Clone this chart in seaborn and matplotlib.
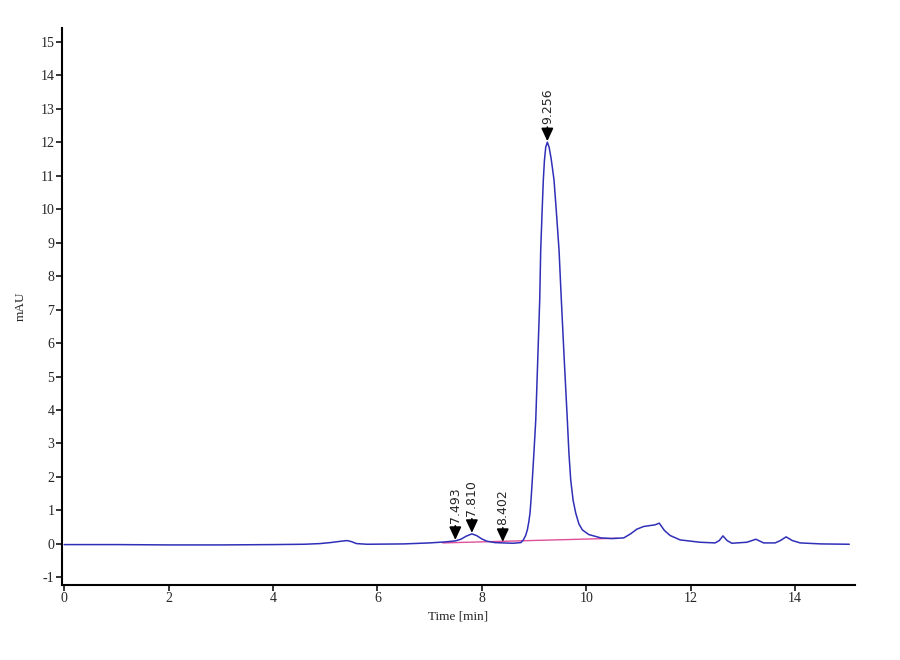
import numpy as np
import pandas as pd
import seaborn as sns
import matplotlib.pyplot as plt

# chromatogram (time in min, signal in mAU)
temps = [0.0, 1.0, 2.0, 3.0, 4.0, 4.6, 4.9, 5.1, 5.3, 5.42, 5.5, 5.6, 5.8, 6.5,
         7.0, 7.3, 7.493, 7.6, 7.7, 7.81, 7.9, 8.0, 8.1, 8.25, 8.402, 8.6, 8.75,
         8.796, 8.84, 8.873, 8.90, 8.924, 8.945, 8.968, 9.00, 9.034, 9.07, 9.110,
         9.129, 9.155, 9.179, 9.20, 9.225, 9.256, 9.29, 9.33, 9.384, 9.43, 9.480,
         9.524, 9.58, 9.639, 9.67, 9.704, 9.75, 9.800, 9.86, 9.926, 10.05, 10.28,
         10.5, 10.72, 10.85, 10.97, 11.1, 11.23, 11.32, 11.40, 11.5, 11.61, 11.8,
         12.18, 12.47, 12.55, 12.62, 12.7, 12.79, 13.08, 13.25, 13.4, 13.62,
         13.72, 13.83, 13.95, 14.1, 14.5, 15.04]
signal = [-0.02, -0.02, -0.03, -0.03, -0.02, -0.01, 0.01, 0.04, 0.08, 0.10, 0.07,
          0.01, -0.01, 0.0, 0.03, 0.06, 0.09, 0.14, 0.23, 0.30, 0.25, 0.15, 0.08,
          0.04, 0.03, 0.02, 0.04, 0.12, 0.25, 0.42, 0.65, 0.92, 1.35, 1.91, 2.75,
          3.70, 5.4, 7.29, 8.78, 9.9, 10.87, 11.45, 11.85, 12.0, 11.85, 11.5,
          10.87, 9.9, 8.78, 7.29, 5.5, 3.70, 2.7, 1.91, 1.3, 0.92, 0.6, 0.42, 0.28,
          0.18, 0.16, 0.18, 0.3, 0.44, 0.52, 0.55, 0.57, 0.62, 0.4, 0.25, 0.12,
          0.05, 0.03, 0.1, 0.24, 0.1, 0.02, 0.05, 0.14, 0.03, 0.03, 0.1, 0.21, 0.1,
          0.03, 0.0, -0.01]

# ligne de base d'intégration
base_temps = [7.25, 10.6]
base_signal = [0.03, 0.17]

# pics annotés
pics_temps = [7.493, 7.810, 8.402, 9.256]
pics_signal = [0.09, 0.30, 0.03, 12.0]
pics_labels = ['7.493', '7.810', '8.402', '9.256']

df = pd.DataFrame({'Time': temps, 'mAU': signal})
df_base = pd.DataFrame({'Time': base_temps, 'mAU': base_signal})

sns.set_style('white')
plt.rcParams['font.family'] = ['Liberation Serif', 'DejaVu Serif']
plt.rcParams['axes.unicode_minus'] = False

fig = plt.figure(figsize=(9, 6.6), dpi=100)
ax = fig.add_axes([0.069, 0.114, 0.881, 0.844])

sns.lineplot(data=df_base, x='Time', y='mAU', color='#e0509a', lw=1, ax=ax)
sns.lineplot(data=df, x='Time', y='mAU', sort=False, color='#2f2fb8', lw=1.1, ax=ax)

for t, v, lab in zip(pics_temps, pics_signal, pics_labels):
    ax.annotate(lab, xy=(t, v + 0.03), xytext=(0, 12.5), textcoords='offset points',
                rotation=90, ha='center', va='bottom', fontsize=9,
                family=['DejaVu Sans'],
                arrowprops=dict(arrowstyle='-|>,head_length=0.6,head_width=0.28',
                                color='black', lw=1.2,
                                mutation_scale=13, shrinkA=0, shrinkB=0))

ax.set_xlim(-0.04, 15.15)
ax.set_ylim(-1.22, 15.42)
ax.set_xticks(range(0, 15, 2))
ax.set_yticks(range(-1, 16))
ax.tick_params(axis='both', direction='out', length=4, width=1.3, labelsize=10,
               bottom=True, left=True, pad=1.5)
for s in ['top', 'right']:
    ax.spines[s].set_visible(False)
for s in ['left', 'bottom']:
    ax.spines[s].set_linewidth(1.5)
    ax.spines[s].set_color('black')

ax.set_xlabel('Time [min]', fontsize=9.5, labelpad=4)
ax.set_ylabel('mAU', fontsize=9.5, labelpad=10)

fig.savefig('out.png', dpi=100, facecolor='white')
